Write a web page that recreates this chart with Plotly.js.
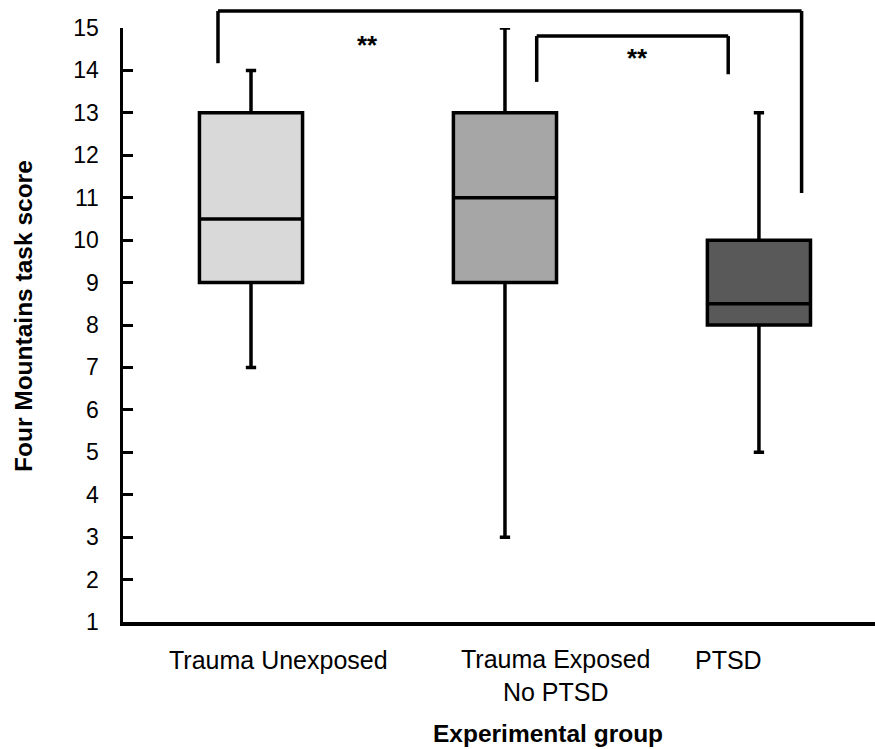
<!DOCTYPE html>
<html>
<head>
<meta charset="utf-8">
<script src="https://cdn.plot.ly/plotly-3.0.1.min.js"></script>
<style>
html, body { margin: 0; padding: 0; background: #ffffff; }
#chart { width: 875px; height: 749px; }
</style>
</head>
<body>
<div id="chart"></div>
<script>
// ---- data ----
const categories = ['Trauma Unexposed', 'Trauma Exposed No PTSD', 'PTSD'];
const tickLabels = ['Trauma Unexposed', 'Trauma Exposed<br>No PTSD', 'PTSD'];
const lowerFence = [7, 3, 5];
const q1 = [9, 9, 8];
const median = [10.5, 11, 8.5];
const q3 = [13, 13, 10];
const upperFence = [14, 15, 13];
const yTicks = [1, 2, 3, 4, 5, 6, 7, 8, 9, 10, 11, 12, 13, 14, 15];
const sigLabels = ['**', '**'];

// ---- styles ----
const fills = ['#d9d9d9', '#a6a6a6', '#595959'];
const FONT = 'Liberation Sans, Arial, sans-serif';
const Y_MIN = 1, Y_MAX = 15;
const margin = {l: 123, r: 0, t: 28, b: 127};
const plotH = 749 - margin.t - margin.b;
function yPaper(v) { return (v - Y_MIN) / (Y_MAX - Y_MIN); }
function pxPaper(py) { return (749 - margin.b - py) / plotH; }

const traces = categories.map((c, i) => ({
  type: 'box',
  name: c,
  x: [c],
  q1: [q1[i]],
  median: [median[i]],
  q3: [q3[i]],
  lowerfence: [lowerFence[i]],
  upperfence: [upperFence[i]],
  fillcolor: fills[i],
  line: {color: '#000000', width: 3.5},
  width: 0.406,
  whiskerwidth: 0.1,
  boxpoints: false,
  showlegend: false,
  hoverinfo: 'y'
}));

// significance brackets (positions in category units / score units)
const brackets = [
  {x0: -0.13, x1: 2.168, yTop: 15.40, yL: 14.17, yR: 11.11},
  {x0: 1.125, x1: 1.879, yTop: 14.81, yL: 13.73, yR: 13.91}
];
const shapes = [];
brackets.forEach(b => {
  const line = {color: '#000000', width: 3.5};
  shapes.push({type: 'line', xref: 'x', yref: 'paper', x0: b.x0, x1: b.x1, y0: yPaper(b.yTop), y1: yPaper(b.yTop), line});
  shapes.push({type: 'line', xref: 'x', yref: 'paper', x0: b.x0, x1: b.x0, y0: yPaper(b.yTop), y1: yPaper(b.yL), line});
  shapes.push({type: 'line', xref: 'x', yref: 'paper', x0: b.x1, x1: b.x1, y0: yPaper(b.yTop), y1: yPaper(b.yR), line});
});

const labelShift = [27, 51, -30];
const annotations = [];
tickLabels.forEach((t, i) => {
  annotations.push({
    text: t, xref: 'x', yref: 'paper', x: i, xshift: labelShift[i],
    y: i === 1 ? pxPaper(675.5) : pxPaper(660), yanchor: 'middle', xanchor: 'center',
    showarrow: false, font: {family: FONT, size: 25, color: '#000000'}
  });
});
const starPos = [{x: 0.46, py: 45}, {x: 1.52, py: 58}];
sigLabels.forEach((s, i) => {
  annotations.push({
    text: '<b>' + s + '</b>', xref: 'x', yref: 'paper', x: starPos[i].x, y: pxPaper(starPos[i].py),
    xanchor: 'center', yanchor: 'middle', showarrow: false,
    font: {family: FONT, size: 26, color: '#000000'}
  });
});
annotations.push({
  text: '<b>Experimental group</b>', xref: 'paper', yref: 'paper',
  x: (547.5 - margin.l) / (875 - margin.l - margin.r), y: pxPaper(733),
  xanchor: 'center', yanchor: 'middle', showarrow: false,
  font: {family: FONT, size: 24.5, color: '#000000'}
});
annotations.push({
  text: '<b>Four Mountains task score</b>', xref: 'paper', yref: 'paper',
  x: (23 - margin.l) / (875 - margin.l - margin.r), y: pxPaper(316),
  xanchor: 'center', yanchor: 'middle', textangle: -90, showarrow: false,
  font: {family: FONT, size: 24.5, color: '#000000'}
});

const layout = {
  width: 875, height: 749,
  margin: margin,
  paper_bgcolor: '#ffffff', plot_bgcolor: '#ffffff',
  font: {family: FONT, color: '#000000'},
  showlegend: false,
  xaxis: {
    type: 'category', categoryorder: 'array', categoryarray: categories,
    range: [-0.504, 2.457], showticklabels: false, ticks: '',
    showline: true, linecolor: '#000000', linewidth: 3.5,
    showgrid: false, zeroline: false, fixedrange: true
  },
  yaxis: {
    range: [Y_MIN, Y_MAX], tickvals: yTicks, ticktext: yTicks.map(String),
    ticks: 'inside', ticklen: 10, tickwidth: 3, tickcolor: '#000000',
    showline: true, linecolor: '#000000', linewidth: 3.5,
    tickfont: {family: FONT, size: 23, color: '#000000'},
    ticklabelstandoff: 16,
    showgrid: false, zeroline: false, fixedrange: true
  },
  shapes: shapes,
  annotations: annotations
};

Plotly.newPlot('chart', traces, layout, {displayModeBar: false, staticPlot: true});
</script>
</body>
</html>
